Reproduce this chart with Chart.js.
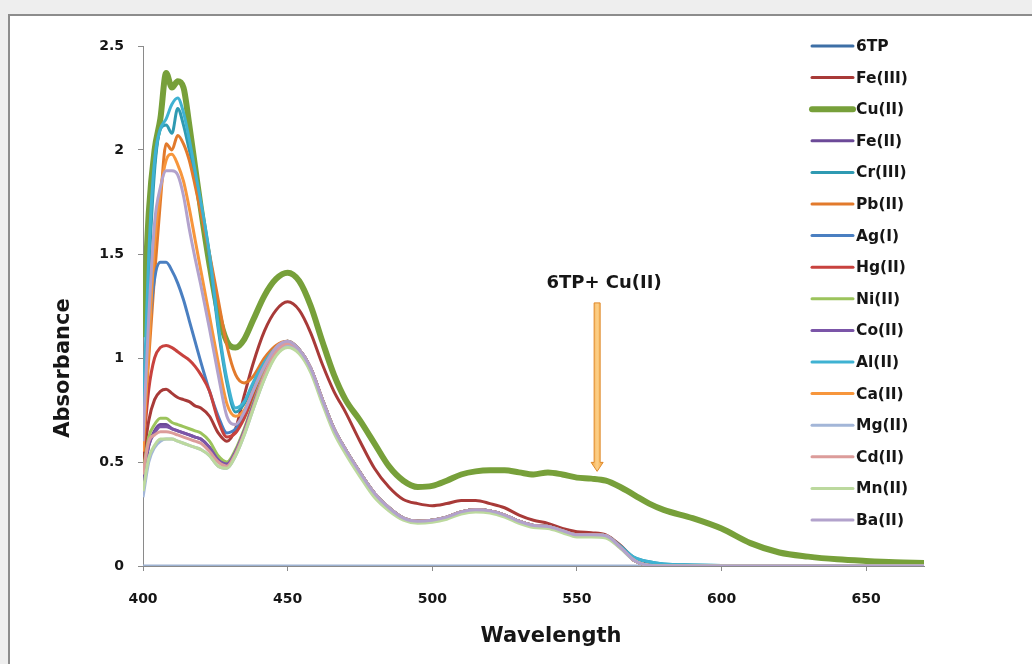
<!DOCTYPE html>
<html>
<head>
<meta charset="utf-8">
<script src="https://cdn.jsdelivr.net/npm/chart.js@4.4.1/dist/chart.umd.min.js"></script>
<style>
  html, body { margin: 0; padding: 0; background: #eeeeee; width: 1032px; height: 664px; overflow: hidden; }
  #panel { position: absolute; left: 8px; top: 14px; width: 1030px; height: 660px; background: #ffffff;
           border-top: 2px solid #8c8c8c; border-left: 2px solid #8c8c8c; box-sizing: border-box; }
  #wrap { position: absolute; left: 0; top: 0; width: 1032px; height: 664px; }
</style>
</head>
<body>
<div id="panel"></div>
<div id="wrap"><canvas id="c" width="1032" height="664"></canvas></div>
<script>
// Wavelength grid (nm)
const wavelengths = [400,402,404,406,408,410,412,414,416,418,420,423,426,429,432,435,438,442,446,450,454,458,462,466,470,475,480,485,490,495,500,505,510,515,520,525,530,535,540,545,550,555,560,565,570,575,580,590,600,610,620,630,640,650,660,670];

const seriesNames = ["6TP","Fe(III)","Cu(II)","Fe(II)","Cr(III)","Pb(II)","Ag(I)","Hg(II)","Ni(II)","Co(II)","Al(II)","Ca(II)","Mg(II)","Cd(II)","Mn(II)","Ba(II)"];

const abs6TP  = [0,0,0,0,0,0,0,0,0,0,0,0,0,0,0,0,0,0,0,0,0,0,0,0,0,0,0,0,0,0,0,0,0,0,0,0,0,0,0,0,0,0,0,0,0,0,0,0,0,0,0,0,0,0,0,0];
const absFeIII = [0.50,0.70,0.80,0.84,0.85,0.83,0.81,0.80,0.79,0.77,0.76,0.72,0.64,0.60,0.66,0.82,0.97,1.13,1.23,1.27,1.23,1.12,0.97,0.84,0.74,0.60,0.47,0.38,0.32,0.30,0.29,0.30,0.315,0.315,0.30,0.28,0.245,0.22,0.205,0.18,0.165,0.16,0.15,0.10,0.035,0.005,0,0,0,0,0,0,0,0,0,0];
const absCuII = [1.10,1.70,2.00,2.15,2.37,2.30,2.33,2.30,2.12,1.92,1.72,1.45,1.22,1.08,1.05,1.09,1.18,1.30,1.38,1.41,1.37,1.25,1.08,0.92,0.80,0.70,0.59,0.48,0.41,0.38,0.385,0.41,0.44,0.455,0.46,0.46,0.45,0.44,0.45,0.44,0.425,0.42,0.41,0.38,0.34,0.30,0.27,0.23,0.18,0.11,0.065,0.045,0.032,0.024,0.018,0.015];
const absFeII = [0.40,0.58,0.65,0.68,0.68,0.66,0.65,0.64,0.63,0.62,0.61,0.57,0.51,0.49,0.55,0.65,0.77,0.92,1.03,1.07,1.04,0.95,0.80,0.66,0.56,0.45,0.35,0.28,0.23,0.215,0.22,0.235,0.26,0.27,0.265,0.245,0.215,0.195,0.19,0.17,0.15,0.15,0.145,0.09,0.025,0.003,0,0,0,0,0,0,0,0,0,0];
const absCrIII = [0.65,1.40,1.90,2.10,2.12,2.08,2.20,2.12,2.00,1.88,1.74,1.48,1.14,0.88,0.74,0.78,0.87,0.98,1.05,1.08,1.04,0.95,0.80,0.66,0.56,0.45,0.35,0.28,0.23,0.215,0.22,0.235,0.26,0.27,0.265,0.245,0.215,0.195,0.19,0.17,0.15,0.15,0.145,0.095,0.04,0.02,0.01,0.005,0.002,0,0,0,0,0,0,0];
const absPbII = [0.60,1.00,1.40,1.75,2.03,2.00,2.07,2.03,1.95,1.83,1.70,1.50,1.28,1.06,0.92,0.88,0.91,1.00,1.06,1.08,1.04,0.95,0.80,0.66,0.56,0.45,0.35,0.28,0.23,0.215,0.22,0.235,0.26,0.27,0.265,0.245,0.215,0.195,0.19,0.17,0.15,0.15,0.145,0.09,0.025,0.003,0,0,0,0,0,0,0,0,0,0];
const absAgI = [0.60,1.10,1.38,1.46,1.46,1.42,1.36,1.28,1.18,1.08,0.98,0.84,0.72,0.64,0.66,0.72,0.82,0.95,1.04,1.07,1.04,0.95,0.80,0.66,0.56,0.45,0.35,0.28,0.23,0.215,0.22,0.235,0.26,0.27,0.265,0.245,0.215,0.195,0.19,0.17,0.15,0.15,0.145,0.09,0.025,0.003,0,0,0,0,0,0,0,0,0,0];
const absHgII = [0.55,0.85,1.00,1.05,1.06,1.05,1.03,1.01,0.99,0.96,0.92,0.84,0.70,0.62,0.64,0.71,0.81,0.95,1.04,1.08,1.04,0.95,0.80,0.66,0.56,0.45,0.35,0.28,0.23,0.215,0.22,0.235,0.26,0.27,0.265,0.245,0.215,0.195,0.19,0.17,0.15,0.15,0.145,0.09,0.025,0.003,0,0,0,0,0,0,0,0,0,0];
const absNiII = [0.45,0.62,0.68,0.71,0.71,0.69,0.68,0.67,0.66,0.65,0.64,0.60,0.53,0.50,0.56,0.66,0.78,0.93,1.03,1.06,1.03,0.94,0.80,0.66,0.56,0.45,0.35,0.28,0.23,0.215,0.22,0.235,0.26,0.27,0.265,0.245,0.215,0.195,0.19,0.17,0.15,0.15,0.145,0.09,0.025,0.003,0,0,0,0,0,0,0,0,0,0];
const absCoII = [0.42,0.58,0.64,0.67,0.67,0.66,0.65,0.64,0.63,0.62,0.61,0.57,0.51,0.49,0.55,0.65,0.77,0.92,1.03,1.07,1.04,0.95,0.80,0.66,0.56,0.45,0.35,0.28,0.23,0.215,0.22,0.235,0.26,0.27,0.265,0.245,0.215,0.195,0.19,0.17,0.15,0.15,0.145,0.09,0.025,0.003,0,0,0,0,0,0,0,0,0,0];
const absAlII = [0.70,1.50,1.95,2.10,2.15,2.22,2.25,2.18,2.05,1.90,1.75,1.50,1.16,0.90,0.76,0.79,0.88,0.98,1.05,1.08,1.04,0.95,0.80,0.66,0.56,0.45,0.35,0.28,0.23,0.215,0.22,0.235,0.26,0.27,0.265,0.245,0.215,0.195,0.19,0.17,0.15,0.15,0.145,0.095,0.04,0.02,0.01,0.005,0.002,0,0,0,0,0,0,0];
const absCaII = [0.55,1.05,1.55,1.80,1.95,1.98,1.93,1.85,1.72,1.57,1.42,1.20,0.98,0.78,0.72,0.75,0.84,0.96,1.05,1.08,1.04,0.95,0.80,0.66,0.56,0.45,0.35,0.28,0.23,0.215,0.22,0.235,0.26,0.27,0.265,0.245,0.215,0.195,0.19,0.17,0.15,0.15,0.145,0.09,0.025,0.003,0,0,0,0,0,0,0,0,0,0];
const absMgII = [0.33,0.50,0.57,0.60,0.61,0.61,0.60,0.59,0.58,0.57,0.56,0.53,0.48,0.47,0.53,0.63,0.75,0.90,1.02,1.06,1.03,0.94,0.79,0.65,0.55,0.44,0.34,0.27,0.225,0.21,0.215,0.23,0.255,0.265,0.26,0.24,0.21,0.19,0.185,0.165,0.145,0.145,0.14,0.088,0.025,0.003,0,0,0,0,0,0,0,0,0,0];
const absCdII = [0.44,0.60,0.63,0.645,0.645,0.64,0.63,0.62,0.61,0.60,0.59,0.55,0.50,0.48,0.54,0.64,0.76,0.92,1.03,1.07,1.04,0.95,0.80,0.66,0.56,0.45,0.35,0.28,0.23,0.215,0.22,0.235,0.26,0.27,0.265,0.245,0.215,0.195,0.19,0.17,0.15,0.15,0.145,0.09,0.025,0.003,0,0,0,0,0,0,0,0,0,0];
const absMnII = [0.36,0.52,0.58,0.61,0.61,0.61,0.60,0.59,0.58,0.57,0.56,0.53,0.48,0.47,0.53,0.63,0.75,0.90,1.01,1.05,1.02,0.93,0.78,0.64,0.54,0.43,0.33,0.265,0.22,0.205,0.21,0.225,0.25,0.26,0.255,0.235,0.205,0.185,0.18,0.16,0.14,0.14,0.135,0.085,0.025,0.003,0,0,0,0,0,0,0,0,0,0];
const absBaII = [0.60,1.20,1.65,1.82,1.90,1.90,1.88,1.78,1.62,1.48,1.35,1.14,0.92,0.72,0.68,0.74,0.84,0.96,1.05,1.08,1.04,0.95,0.80,0.66,0.56,0.45,0.35,0.28,0.23,0.215,0.22,0.235,0.26,0.27,0.265,0.245,0.215,0.195,0.19,0.17,0.15,0.15,0.145,0.09,0.025,0.003,0,0,0,0,0,0,0,0,0,0];

const seriesValues = [abs6TP,absFeIII,absCuII,absFeII,absCrIII,absPbII,absAgI,absHgII,absNiII,absCoII,absAlII,absCaII,absMgII,absCdII,absMnII,absBaII];
const seriesColors = ["#3d6fa6","#a83a38","#77a03a","#6c4a98","#2f9ab2","#e27a2c","#4a7fc1","#c8423e","#9cc45c","#7b55a8","#3fb2d2","#f7963c","#a3b6d8","#dc9c9a","#bcd99e","#b2a2cc"];
const lineColors = ["#9db2d1","#a83a38","#77a03a","#6c4a98","#2f9ab2","#e27a2c","#4a7fc1","#c8423e","#9cc45c","#7b55a8","#3fb2d2","#f7963c","#a3b6d8","#dc9c9a","#bcd99e","#b2a2cc"];
const seriesWidths = [3,3,6,3,3,3,3,3,3,3,3,3,3,3,3,3];

const xTicks = [400,450,500,550,600,650];
const yTicks = [0,0.5,1,1.5,2,2.5];

// annotation: label and arrow (data coordinates)
const annotText = "6TP+ Cu(II)";
const annotLabelAt = {x: 559.4, y: 1.36};
const arrowFrom = {x: 557, y: 1.265};
const arrowTo = {x: 557, y: 0.455};

const FONT = "'DejaVu Sans', sans-serif";
const INK = '#161616';

const datasets = seriesNames.map((name, i) => ({
  label: name,
  data: seriesValues[i].map((v, k) => ({x: wavelengths[k], y: v})),
  borderColor: lineColors[i],
  backgroundColor: seriesColors[i],
  borderWidth: seriesWidths[i],
  pointRadius: 0,
  cubicInterpolationMode: 'monotone',
  fill: false,
  order: seriesNames.length - i
}));

const overlayPlugin = {
  id: 'overlay',
  afterDraw(chart) {
    const ctx = chart.ctx;
    const xs = chart.scales.x, ys = chart.scales.y;
    ctx.save();
    // arrow
    const ax = xs.getPixelForValue(arrowFrom.x);
    const ay0 = ys.getPixelForValue(arrowFrom.y);
    const ay1 = ys.getPixelForValue(arrowTo.y);
    const sw = 3, hw = 6, hh = 9;
    ctx.beginPath();
    ctx.moveTo(ax - sw, ay0);
    ctx.lineTo(ax + sw, ay0);
    ctx.lineTo(ax + sw, ay1 - hh);
    ctx.lineTo(ax + hw, ay1 - hh);
    ctx.lineTo(ax, ay1);
    ctx.lineTo(ax - hw, ay1 - hh);
    ctx.lineTo(ax - sw, ay1 - hh);
    ctx.closePath();
    const g = ctx.createLinearGradient(ax - hw, 0, ax + hw, 0);
    g.addColorStop(0, '#f4a640');
    g.addColorStop(0.5, '#fcd08a');
    g.addColorStop(1, '#f4a640');
    ctx.fillStyle = g;
    ctx.fill();
    ctx.lineWidth = 1;
    ctx.strokeStyle = '#e0892a';
    ctx.stroke();
    // annotation text
    ctx.fillStyle = INK;
    ctx.font = "bold 18px " + FONT;
    ctx.textAlign = 'center';
    ctx.textBaseline = 'middle';
    ctx.fillText(annotText, xs.getPixelForValue(annotLabelAt.x), ys.getPixelForValue(annotLabelAt.y));
    // axis titles
    ctx.font = "bold 21px " + FONT;
    ctx.fillText('Wavelength', 551, 637);
    ctx.save();
    ctx.translate(64, 368);
    ctx.rotate(-Math.PI / 2);
    ctx.fillText('Absorbance', 0, 0);
    ctx.restore();
    // legend
    const lx0 = 812, lx1 = 853, tx = 856, top = 46, step = 31.6;
    ctx.textAlign = 'left';
    ctx.font = "bold 15.5px " + FONT;
    chart.data.datasets.forEach((ds, i) => {
      const y = top + i * step;
      ctx.beginPath();
      ctx.lineCap = 'round';
      ctx.strokeStyle = seriesColors[i];
      ctx.lineWidth = ds.borderWidth >= 5 ? 6 : 3;
      ctx.moveTo(lx0, y);
      ctx.lineTo(lx1, y);
      ctx.stroke();
      ctx.fillStyle = INK;
      ctx.fillText(ds.label, tx, y + 1);
    });
    ctx.restore();
  }
};

new Chart(document.getElementById('c'), {
  type: 'line',
  data: { datasets },
  options: {
    responsive: false,
    animation: false,
    events: [],
    layout: { padding: { left: 50, right: 108, top: 46, bottom: 14 } },
    plugins: { legend: { display: false }, tooltip: { enabled: false } },
    scales: {
      x: {
        type: 'linear', min: 400, max: 670,
        afterFit(s) { s.height = 84; },
        afterBuildTicks(s) { s.ticks = xTicks.map(v => ({value: v})); },
        ticks: { color: INK, font: { family: FONT, size: 14, weight: 'bold' }, padding: 20, maxRotation: 0, callback: v => String(v) },
        grid: { drawOnChartArea: false, drawTicks: true, tickLength: 5, color: '#8a8a8a' },
        border: { display: true, color: '#8a8a8a', width: 1 }
      },
      y: {
        type: 'linear', min: 0, max: 2.5,
        afterFit(s) { s.width = 93; },
        afterBuildTicks(s) { s.ticks = yTicks.map(v => ({value: v})); },
        ticks: { color: INK, font: { family: FONT, size: 14, weight: 'bold' }, padding: 14, callback: v => String(v) },
        grid: { drawOnChartArea: false, drawTicks: true, tickLength: 5, color: '#8a8a8a' },
        border: { display: true, color: '#8a8a8a', width: 1 }
      }
    }
  },
  plugins: [overlayPlugin]
});
</script>
</body>
</html>
